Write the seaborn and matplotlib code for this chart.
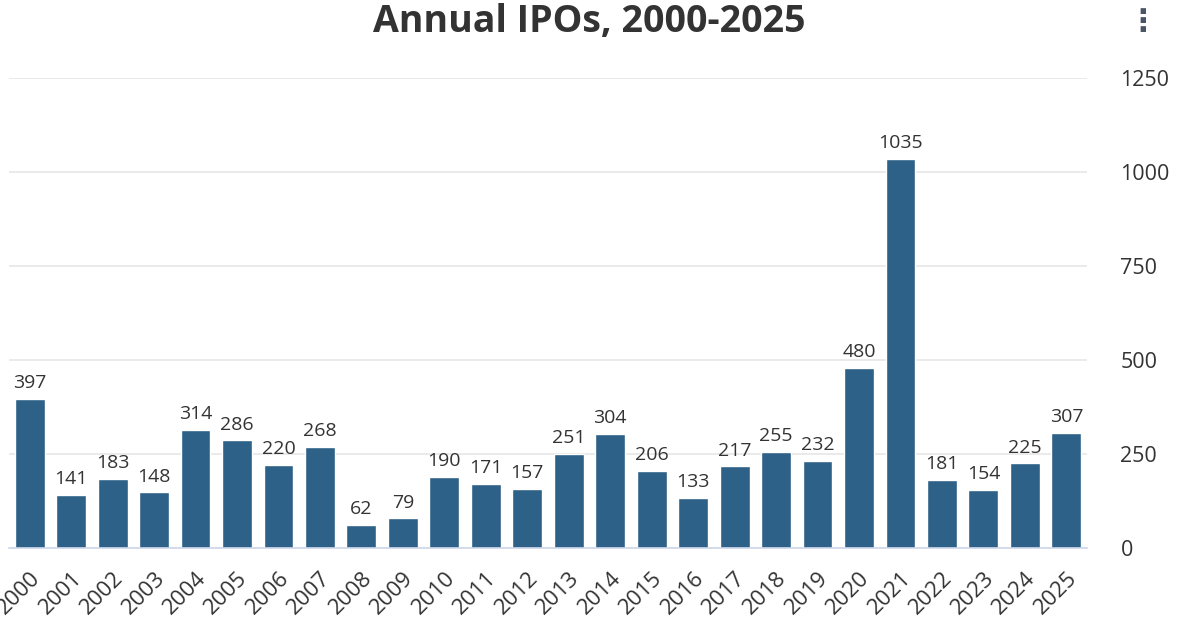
import matplotlib
matplotlib.use("Agg")
import matplotlib.pyplot as plt
import seaborn as sns
import pandas as pd

# data
years = [str(y) for y in range(2000, 2026)]
ipos = [397, 141, 183, 148, 314, 286, 220, 268, 62, 79, 190, 171, 157, 251,
        304, 206, 133, 217, 255, 232, 480, 1035, 181, 154, 225, 307]
y_ticks = [0, 250, 500, 750, 1000, 1250]

df = pd.DataFrame({"year": years, "ipos": ipos})

sns.set_theme(style="white")
plt.rcParams["font.family"] = ["Open Sans", "DejaVu Sans"]

fig = plt.figure(figsize=(11.78, 6.29), dpi=100)
ax = fig.add_axes([0.0076, 0.1288, 0.9152, 0.7472])

sns.barplot(data=df, x="year", y="ipos", color="#2d6187", saturation=1,
            width=0.72, ax=ax)

for i, v in enumerate(ipos):
    ax.text(i, v + 18, str(v), ha="center", va="bottom", fontsize=14, color="#333333")

ax.set_ylim(0, 1250)
ax.set_xlim(-0.5, len(years) - 0.5)
ax.set_yticks(y_ticks)
ax.yaxis.tick_right()
ax.tick_params(axis="y", length=0, labelsize=15.5, labelcolor="#333333", pad=24)
ax.tick_params(axis="x", length=0, labelsize=16, labelcolor="#333333", pad=14)
plt.setp(ax.get_xticklabels(), rotation=45, ha="right", rotation_mode="anchor")
ax.grid(axis="y", color="#e6e6e6", linewidth=1.2)
ax.set_axisbelow(True)
for side in ["top", "left", "right"]:
    ax.spines[side].set_visible(False)
ax.spines["bottom"].set_color("#ccd6eb")
ax.spines["bottom"].set_linewidth(1.2)
ax.set_xlabel("")
ax.set_ylabel("")

fig.suptitle("Annual IPOs, 2000-2025", x=0.5, y=0.995, fontsize=27,
             fontweight="bold", color="#333333")
fig.text(0.970, 0.965, "⋮", ha="center", va="center", fontsize=22,
         color="#4a5568", family=["DejaVu Sans"], fontweight="bold")

fig.savefig("out.png", dpi=100)
